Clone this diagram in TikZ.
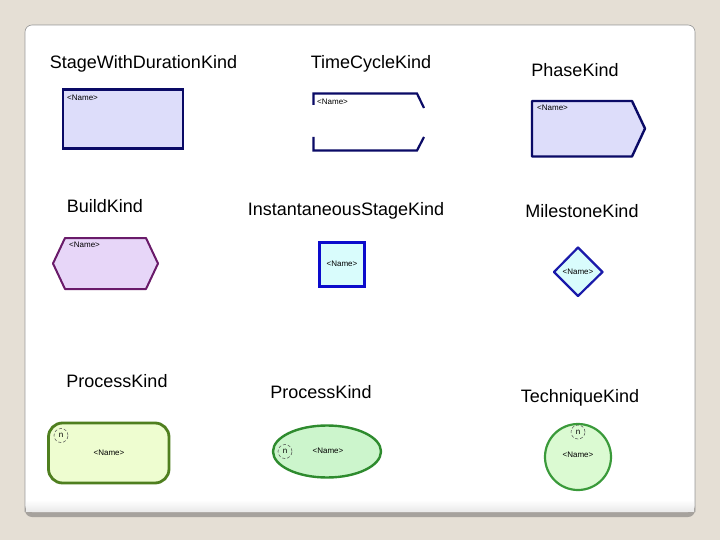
\documentclass[tikz,border=0pt]{standalone}
\usepackage{fontspec}
\setmainfont{Liberation Sans}
\usetikzlibrary{shapes.geometric}
\definecolor{bgbeige}{HTML}{E5DFD5}
\definecolor{shadowgray}{HTML}{A6A29D}
\definecolor{edgegray}{HTML}{9A9A9A}
\definecolor{navy}{HTML}{0A0A66}
\definecolor{lavender}{HTML}{DDDDFA}
\definecolor{buildfill}{HTML}{E7D6F8}
\definecolor{buildline}{HTML}{6A1B6A}
\definecolor{cyanfill}{HTML}{D9FCFC}
\definecolor{instline}{HTML}{0C0CCC}
\definecolor{mileline}{HTML}{1A1AAA}
\definecolor{procfill}{HTML}{EEFDD0}
\definecolor{procline}{HTML}{4F7F1F}
\definecolor{ellfill}{HTML}{CCF5CC}
\definecolor{ellline}{HTML}{2E8B2E}
\definecolor{techfill}{HTML}{DBFAD2}
\definecolor{techline}{HTML}{3A9A3A}
\tikzset{
  title/.style={font=\fontsize{18}{21}\selectfont, inner sep=0pt},
  namelbl/.style={font=\fontsize{8}{9}\selectfont, inner sep=0pt},
  ncircle/.style={circle, draw=black!70, densely dashed, line width=0.5pt, minimum size=14pt, inner sep=0pt, font=\fontsize{8}{9}\selectfont},
}
\begin{document}
\begin{tikzpicture}[x=1pt,y=-1pt]
\useasboundingbox (0,0) rectangle (720,540);
\fill[bgbeige] (0,0) rectangle (720,540);
% panel
\fill[shadowgray, rounded corners=7pt] (25,25) rectangle (695,517);
\fill[white, rounded corners=7pt] (25,25) rectangle (695,512);
\shade[top color=white, bottom color=black!8] (26,500) rectangle (694,511);
\draw[edgegray, line width=0.6pt, rounded corners=7pt] (25,512) -- (25,25) -- (695,25) -- (695,512);

% titles
\node[title] (t1) at (143.5,64) {StageWithDurationKind};
\node[title] (t2) at (371,64) {TimeCycleKind};
\node[title] (t3) at (575,70) {PhaseKind};
\node[title] (t4) at (105,206) {BuildKind};
\node[title] (t5) at (346,211) {InstantaneousStageKind};
\node[title] (t6) at (582,211) {MilestoneKind};
\node[title] (t7) at (117,381) {ProcessKind};
\node[title] (t8) at (321,392) {ProcessKind};
\node[title] (t9) at (580,398) {TechniqueKind};

% StageWithDuration
\draw[navy, fill=lavender, line width=2.8pt] (63,89.5) rectangle (183,148.5);
\node[namelbl, anchor=north west] (n1) at (67,95) {<Name>};

% TimeCycle
\draw[navy, line width=2.2pt] (313.5,105) -- (313.5,93.5) -- (417,93.5) -- (424,108);
\draw[navy, line width=2.2pt] (313.5,137) -- (313.5,150.5) -- (417,150.5) -- (424,137);
\node[namelbl, anchor=north west] (n2) at (317,98.5) {<Name>};

% Phase
\draw[navy, fill=lavender, line width=2.4pt, line join=round] (532,101) -- (632,101) -- (645,128.5) -- (632,156.5) -- (532,156.5) -- cycle;
\node[namelbl, anchor=north west] (n3) at (537,105) {<Name>};

% Build
\draw[buildline, fill=buildfill, line width=2pt, line join=round] (65,238) -- (146,238) -- (158,263.5) -- (146,289) -- (65,289) -- (53,263.5) -- cycle;
\node[namelbl, anchor=north west] (n4) at (69,242) {<Name>};

% Instantaneous
\draw[instline, fill=cyanfill, line width=3pt] (319.5,242.5) rectangle (364.5,286.5);
\node[namelbl] (n5) at (342,264) {<Name>};

% Milestone
\draw[mileline, fill=cyanfill, line width=2.2pt, line join=round] (578,247.5) -- (602.5,272) -- (578,296) -- (554,272) -- cycle;
\node[namelbl] (n6) at (578,271.5) {<Name>};

% Process rounded rect
\draw[procline, fill=procfill, line width=2.8pt, rounded corners=14pt] (48.5,423) rectangle (169,483);
\node[ncircle] (c7) at (61,435.5) {n};
\node[namelbl] (n7) at (109,452.5) {<Name>};

% Process ellipse
\node[ellipse, draw=ellline, fill=ellfill, line width=2.4pt, minimum width=108pt, minimum height=52pt, inner sep=0pt] (e8) at (327,451.5) {};
\node[ncircle] (c8) at (285,451.5) {n};
\node[namelbl] (n8) at (328,450.5) {<Name>};

% Technique
\node[circle, draw=techline, fill=techfill, line width=2.2pt, minimum size=66pt, inner sep=0pt] (e9) at (578,457) {};
\node[ncircle] (c9) at (578,432) {n};
\node[namelbl] (n9) at (578,455) {<Name>};
\end{tikzpicture}
\end{document}
